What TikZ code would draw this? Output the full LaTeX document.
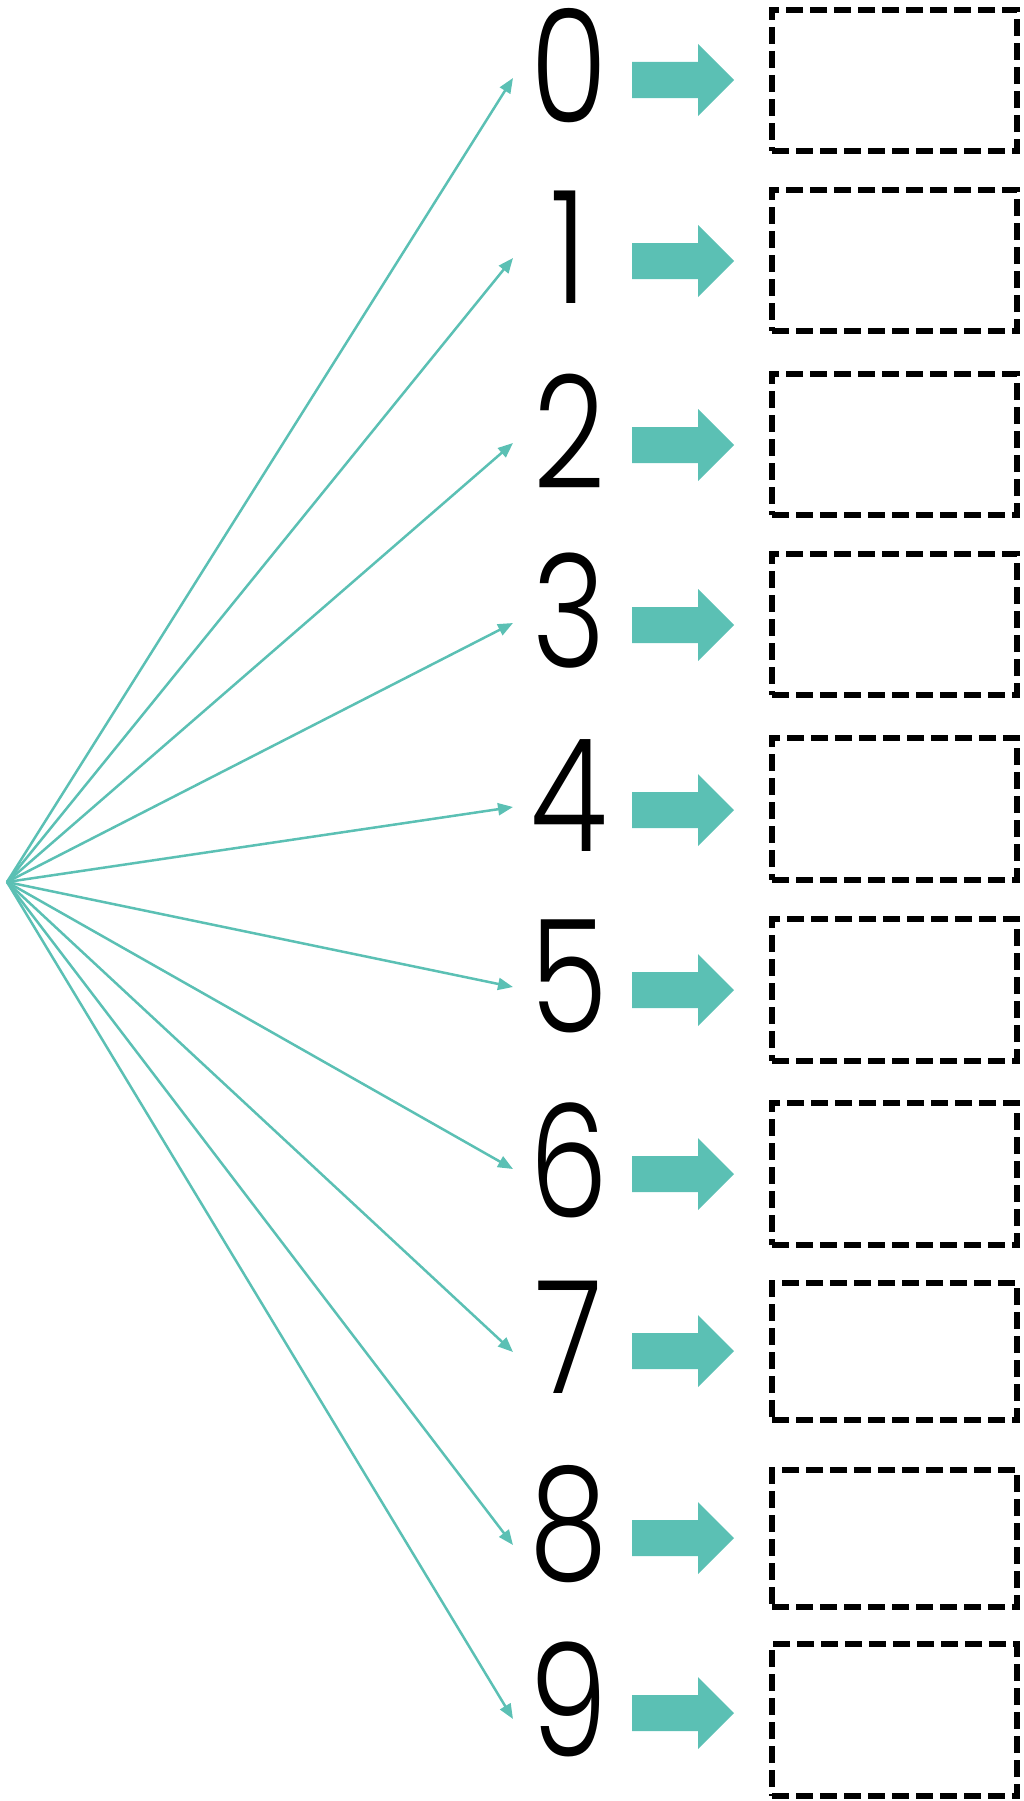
\documentclass[tikz,border=0pt]{standalone}
\usepackage{fontspec}
\setmainfont{Poppins}[UprightFont=* Light]
\usetikzlibrary{arrows.meta}
\definecolor{tealc}{RGB}{91,192,180}
\begin{document}
\begin{tikzpicture}[x=1pt,y=-1pt,
  digit/.style={font=\fontsize{157}{157}\selectfont, inner sep=0pt, anchor=center, text=black},
  slot/.style={draw=black, dash pattern=on 17pt off 7pt, line width=6pt, minimum width=245pt, inner sep=0pt},
  fan/.style={draw=tealc, line width=2.5pt, -{Triangle[length=15pt,width=12pt]}},
  blockarrow/.style={fill=tealc}]
\useasboundingbox (0,0) rectangle (1023,1801);
\coordinate (o) at (7,882);
\foreach \i/\a/\bc/\bh/\t in {0/80/80.5/141/78, 1/261/260.5/141/258, 2/445/444.5/141/443, 3/625/624.5/141/623, 4/810/809/142/807, 5/990/990/142/987, 6/1174/1174/142/1169, 7/1351/1351.5/137/1352, 8/1538/1538.5/137/1545, 9/1713/1720/152/1719}{
  \node[digit] (d\i) at (569,\a-14) {\scalebox{0.8}[1]{\i}};
  \node[slot, minimum height=\bh pt] (b\i) at (894.5,\bc) {};
  \fill[blockarrow] (632,\a-18) -- (698,\a-18) -- (698,\a-36) -- (734,\a) -- (698,\a+36) -- (698,\a+18) -- (632,\a+18) -- cycle;
  \coordinate (t\i) at (513,\t);
  \draw[fan] (o) -- (t\i);
}
\end{tikzpicture}
\end{document}
